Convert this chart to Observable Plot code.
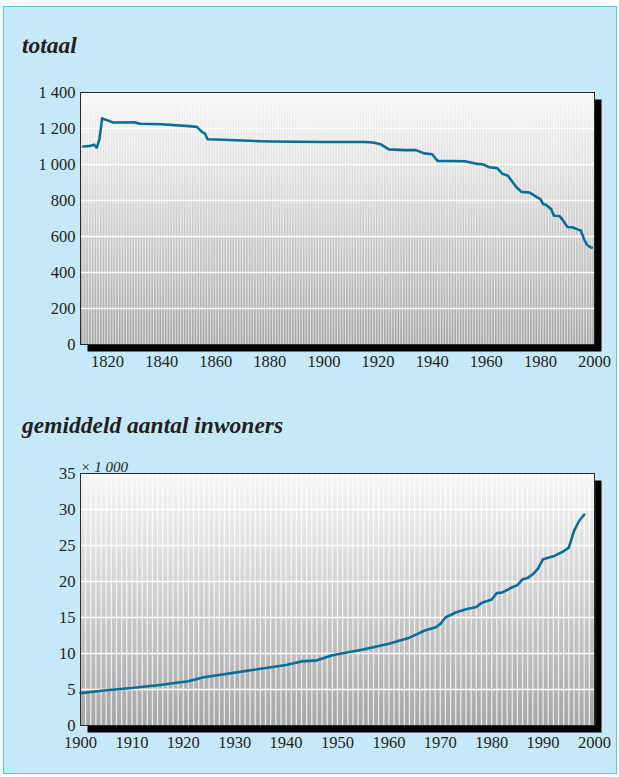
<!DOCTYPE html>
<html><head><meta charset="utf-8">
<script src="https://cdn.jsdelivr.net/npm/d3@7"></script>
<script src="https://cdn.jsdelivr.net/npm/@observablehq/plot@0.6"></script>
<style>
body{margin:0;background:#fff;width:619px;height:777px;overflow:hidden;position:relative;font-family:"Liberation Serif","Times New Roman",Times,"DejaVu Serif",serif;}
#box{position:absolute;left:3px;top:6px;width:612px;height:766px;border:1px solid #52c5f0;background:#c6e9f9;}
.title{position:absolute;left:22px;font-family:"Liberation Serif","Times New Roman",Times,"DejaVu Serif",serif;font-style:italic;font-weight:bold;font-size:23.5px;line-height:23px;color:#231f20;white-space:nowrap;}
</style></head><body>
<div id="box"></div>
<div class="title" style="top:34px">totaal</div>
<div class="title" style="top:414px">gemiddeld aantal inwoners</div>
<script>
// ---- data: totaal (aantal gemeenten) ----
const years1 = [1811,1813,1815,1816,1817,1818,1820,1822,1830,1832,1840,1850,1853,1855,1856,1857,1860,1870,1880,1890,1900,1915,1918,1921,1924,1930,1934,1937,1940,1942,1952,1956,1959,1961,1964,1966,1968,1971,1973,1976,1979,1980,1981,1982,1984,1985,1987,1988,1990,1992,1994,1995,1996,1997,1998,1999];
const values1 = [1100,1102,1110,1094,1140,1256,1245,1233,1234,1226,1224,1213,1209,1180,1172,1140,1139,1133,1128,1126,1125,1125,1122,1112,1084,1080,1080,1062,1057,1020,1018,1005,1000,985,980,948,937,876,848,844,816,808,780,776,752,715,714,697,653,650,638,632,590,558,545,538];
const xTicks1 = [1820,1840,1860,1880,1900,1920,1940,1960,1980,2000];
const yTicks1 = [0,200,400,600,800,1000,1200,1400];

// ---- data: gemiddeld aantal inwoners (x 1000) ----
const years2 = [1900,1905,1910,1915,1921,1924,1932,1940,1943,1946,1949,1955,1960,1964,1967,1969,1970,1971,1973,1975,1977,1978,1980,1981,1982,1984,1985,1986,1987,1988,1989,1990,1992,1994,1995,1996,1997,1998];
const values2 = [4.5,4.9,5.2,5.6,6.15,6.7,7.55,8.4,8.9,9.05,9.75,10.55,11.35,12.2,13.2,13.6,14.1,15.0,15.7,16.15,16.45,17.0,17.5,18.4,18.45,19.2,19.5,20.3,20.5,21.0,21.8,23.1,23.5,24.2,24.7,27.0,28.4,29.3];
const xTicks2 = [1900,1910,1920,1930,1940,1950,1960,1970,1980,1990,2000];
const yTicks2 = [0,5,10,15,20,25,30,35];
const unitLabel = ["× 1 000"];

const fmtThousands = d => d3.format(",")(d).replace(/,/g, " ");
const serif = "'Liberation Serif','Times New Roman',Times,'DejaVu Serif',serif";

function makeChart({years, values, xDomain, yDomain, xTicks, yTicks, gradId, top, stripeOpacity, stripeWidth, extra = []}) {
  const data = years.map((year, i) => ({year, value: values[i]}));
  const stripes = d3.range(xDomain[0], xDomain[1] + 1);
  const chart = Plot.plot({
    width: 619, height: 300,
    marginLeft: 80, marginRight: 25, marginTop: 12, marginBottom: 36,
    x: {domain: xDomain},
    y: {domain: yDomain},
    style: {fontFamily: serif, fontSize: "16.5px", color: "#231f20", background: "transparent", overflow: "visible"},
    marks: [
      Plot.frame({fill: "#000", insetLeft: 7, insetTop: 7, insetRight: -7, insetBottom: -7}),
      Plot.frame({fill: `url(#${gradId})`}),
      Plot.ruleX(stripes, {x: d => d, stroke: "#fff", strokeOpacity: stripeOpacity, strokeWidth: stripeWidth}),
      Plot.ruleY(yTicks.slice(1, -1), {y: d => d, stroke: "#fff", strokeWidth: 1.5}),
      Plot.line(data, {x: "year", y: "value", stroke: "#0a6f98", strokeWidth: 2.6, strokeLinejoin: "round", strokeLinecap: "round"}),
      Plot.frame({stroke: "#2a2a2a", strokeWidth: 1}),
      Plot.axisX({ticks: xTicks, tickSize: 0, tickPadding: 11, tickFormat: d => String(d), label: null}),
      Plot.axisY({ticks: yTicks, tickSize: 0, tickPadding: 5, tickFormat: fmtThousands, label: null}),
      ...extra
    ]
  });
  d3.select(chart).insert("defs", ":first-child").html(
    `<linearGradient id="${gradId}" x1="0" y1="0" x2="0" y2="1">
       <stop offset="0" stop-color="#f7f7f7"/>
       <stop offset="1" stop-color="#a6a6a6"/>
     </linearGradient>`);
  chart.style.position = "absolute";
  chart.style.left = "0px";
  chart.style.top = top + "px";
  document.body.appendChild(chart);
}

makeChart({years: years1, values: values1, xDomain: [1810, 2000], yDomain: [0, 1400], xTicks: xTicks1, yTicks: yTicks1, gradId: "grad1", top: 80, stripeOpacity: 0.6, stripeWidth: 1.1});
makeChart({years: years2, values: values2, xDomain: [1900, 2000], yDomain: [0, 35], xTicks: xTicks2, yTicks: yTicks2, gradId: "grad2", top: 461, stripeOpacity: 0.75, stripeWidth: 1.3,
  extra: [Plot.text(unitLabel, {text: d => d, frameAnchor: "top-left", dy: -2, textAnchor: "start", lineAnchor: "bottom", fontStyle: "italic", fontSize: 15})]});
</script>
</body></html>
